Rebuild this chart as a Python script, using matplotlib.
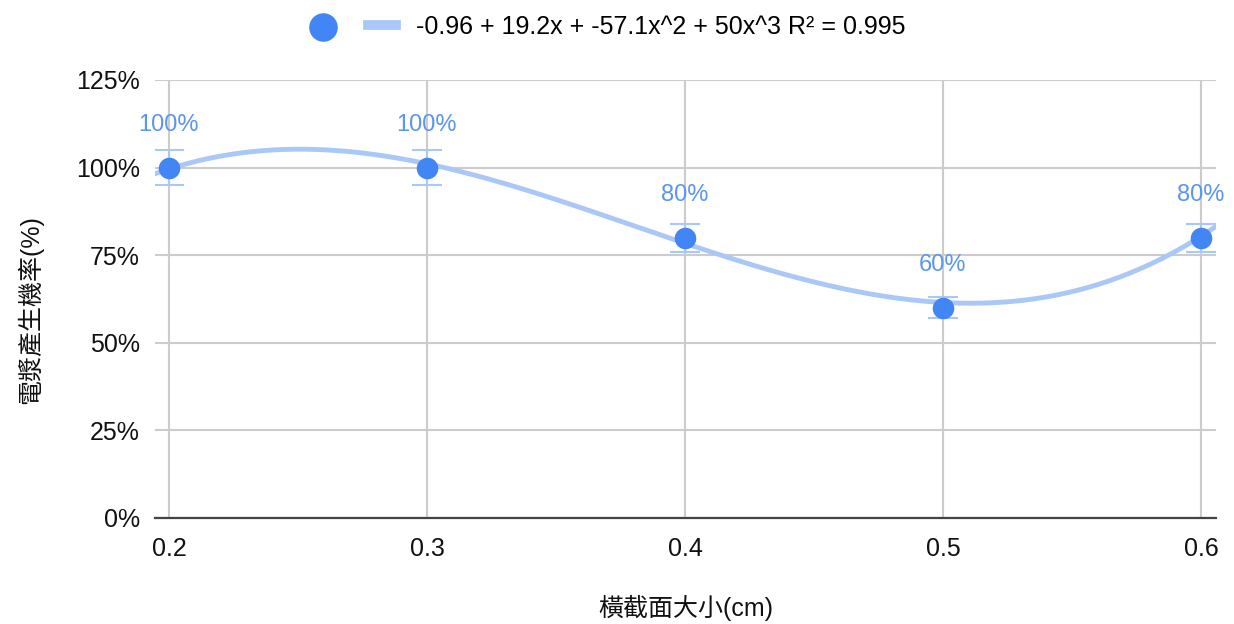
import numpy as np
import matplotlib
matplotlib.use("Agg")
import matplotlib.pyplot as plt
from matplotlib.ticker import FuncFormatter

plt.rcParams['font.family'] = ['Liberation Sans', 'Noto Sans CJK TC', 'DejaVu Sans']

# cross-section size (cm) vs. plasma generation probability (%)
sizes = [0.2, 0.3, 0.4, 0.5, 0.6]
probability = [100, 100, 80, 60, 80]
error_pct = 5  # error bars: 5% of each value

# cubic trend line coefficients (constant, x, x^2, x^3) and fit quality
trend_coef = [-0.96, 19.2, -57.1, 50]
r_squared = 0.995

x_ticks = [0.2, 0.3, 0.4, 0.5, 0.6]
y_ticks = [0, 25, 50, 75, 100, 125]

point_color = '#4285f4'
trend_color = '#a9c7f7'
label_color = '#5a95f2'

fig = plt.figure(figsize=(12.34, 6.24), dpi=100)
ax = fig.add_axes([0.1256, 0.1699, 0.8598, 0.7019])

x = np.array(sizes)
y = np.array(probability)
err = y * error_pct / 100

# trend line over the whole x range
xs = np.linspace(0.1946, 0.6058, 300)
ys = sum(c * xs ** i for i, c in enumerate(trend_coef)) * 100
trend_label = (f"{trend_coef[0]:g} + {trend_coef[1]:g}x + {trend_coef[2]:g}x^2 + "
               f"{trend_coef[3]:g}x^3 R² = {r_squared:g}")
ax.plot(xs, ys, color=trend_color, lw=3.5, zorder=2, label=trend_label)

ax.errorbar(x, y, yerr=err, fmt='none', ecolor=trend_color, elinewidth=1.5,
            capsize=11, capthick=1.5, zorder=3)
ax.scatter(x, y, s=210, color=point_color, zorder=4, label=' ')

for xi, yi in zip(sizes, probability):
    ax.annotate(f"{yi}%", (xi, yi), xytext=(0, 31), textcoords='offset points',
                ha='center', va='center', fontsize=17, color=label_color, zorder=5)

ax.set_xlim(0.1946, 0.6058)
ax.set_ylim(0, 125)
ax.set_xticks(x_ticks)
ax.set_yticks(y_ticks)
ax.set_xticklabels([f"{t:g}" for t in x_ticks])
ax.yaxis.set_major_formatter(FuncFormatter(lambda v, _: f"{v:.0f}%"))
ax.tick_params(length=0, labelsize=18, colors='#111111', pad=11)
ax.tick_params(axis='x', pad=14)

ax.grid(True, color='#cccccc', lw=1.5, zorder=1)
ax.set_axisbelow(True)
for side in ['top', 'right', 'left']:
    ax.spines[side].set_visible(False)
ax.spines['bottom'].set_color('#444444')
ax.spines['bottom'].set_linewidth(1.6)

ax.set_xlabel('橫截面大小(cm)', fontsize=18, color='#111111')
ax.set_ylabel('電漿產生機率(%)', fontsize=18, color='#111111')
ax.xaxis.set_label_coords(0.5, -0.175)
ax.yaxis.set_label_coords(-0.105, 0.475)

handles, labels = ax.get_legend_handles_labels()
leg = fig.legend([handles[1], handles[0]], [' ', labels[0]], loc='center',
                 bbox_to_anchor=(0.492, 0.957), ncol=2, frameon=False,
                 fontsize=18, handlelength=1.1, columnspacing=0.2,
                 handletextpad=0.8, markerscale=1.35)
for line in leg.get_lines():
    line.set_linewidth(7)

fig.savefig('out.png', dpi=100)
